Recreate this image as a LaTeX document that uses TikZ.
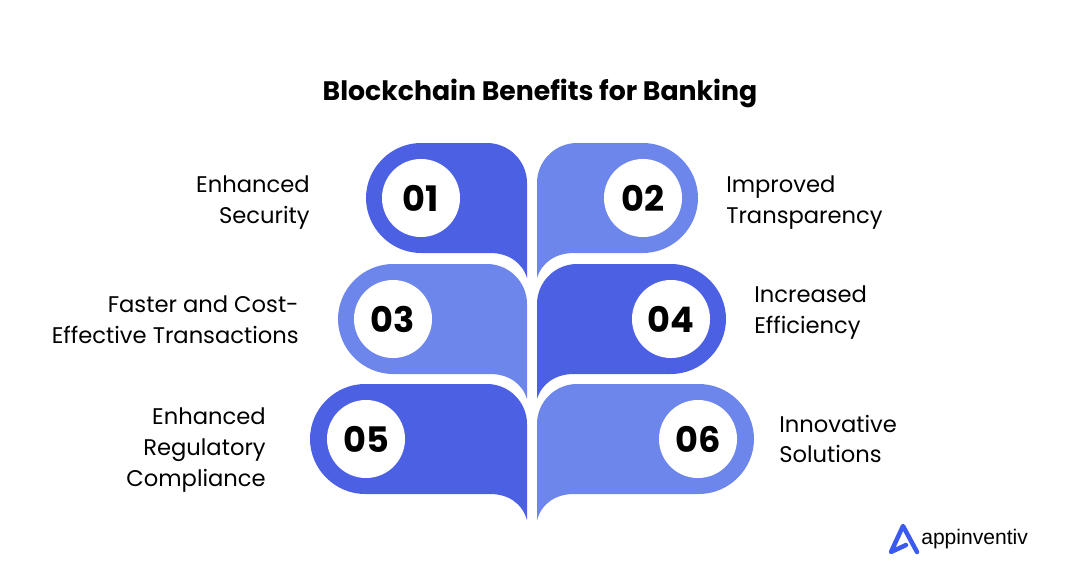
\documentclass[tikz,border=0pt]{standalone}
\usepackage{xcolor}
\usepackage{fontspec}
\setmainfont{Poppins}
\newfontfamily\logofont{Liberation Sans}
\definecolor{darkblue}{HTML}{4C60E4}
\definecolor{lightblue}{HTML}{6D86EC}
\definecolor{logoblue}{HTML}{3B5BF0}
\tikzset{
  numcircle/.style={circle, fill=white, minimum size=1.95cm, inner sep=0pt, font=\fontsize{25}{25}\selectfont\bfseries},
  leftlabel/.style={anchor=east, align=right, inner sep=0pt, font=\fontsize{16.1}{22}\selectfont},
  rightlabel/.style={anchor=west, align=left, inner sep=0pt, font=\fontsize{16.1}{22}\selectfont}
}
\begin{document}
\begin{tikzpicture}[x=0.025cm, y=-0.025cm]
  \useasboundingbox (0, 0) rectangle (1080, 585);
  \node[inner sep=0pt, font=\fontsize{19}{24}\selectfont\bfseries] (title) at (540, 93) {Blockchain Benefits for Banking};
  % left leaves
  \fill[darkblue] (421, 143) -- (487, 143) .. controls (509, 143) and (527, 161) .. (527, 183) -- (527, 278) .. controls (522, 262) and (508, 253) .. (490, 253) -- (421, 253) .. controls (391, 253) and (366, 228) .. (366, 198) .. controls (366, 168) and (391, 143) .. (421, 143);
  \fill[lightblue] (393, 264) -- (487, 264) .. controls (509, 264) and (527, 282) .. (527, 304) -- (527, 399) .. controls (522, 383) and (508, 374) .. (490, 374) -- (393, 374) .. controls (363, 374) and (338, 349) .. (338, 319) .. controls (338, 289) and (363, 264) .. (393, 264);
  \fill[darkblue] (365, 384) -- (487, 384) .. controls (509, 384) and (527, 402) .. (527, 424) -- (527, 520) .. controls (522, 503) and (508, 494) .. (490, 494) -- (365, 494) .. controls (335, 494) and (310, 469) .. (310, 439) .. controls (310, 409) and (335, 384) .. (365, 384);
  % right leaves
  \fill[lightblue] (643, 143) -- (577, 143) .. controls (555, 143) and (537, 161) .. (537, 183) -- (537, 278) .. controls (542, 262) and (556, 253) .. (574, 253) -- (643, 253) .. controls (673, 253) and (698, 228) .. (698, 198) .. controls (698, 168) and (673, 143) .. (643, 143);
  \fill[darkblue] (671, 264) -- (577, 264) .. controls (555, 264) and (537, 282) .. (537, 304) -- (537, 399) .. controls (542, 383) and (556, 374) .. (574, 374) -- (671, 374) .. controls (701, 374) and (726, 349) .. (726, 319) .. controls (726, 289) and (701, 264) .. (671, 264);
  \fill[lightblue] (699, 384) -- (577, 384) .. controls (555, 384) and (537, 402) .. (537, 424) -- (537, 520) .. controls (542, 503) and (556, 494) .. (574, 494) -- (699, 494) .. controls (729, 494) and (754, 469) .. (754, 439) .. controls (754, 409) and (729, 384) .. (699, 384);
  % numbers
  \node[numcircle] (num1) at (421, 198) {01};
  \node[numcircle] (num2) at (643, 198) {02};
  \node[numcircle] (num3) at (393, 319) {03};
  \node[numcircle] (num4) at (671, 319) {04};
  \node[numcircle] (num5) at (366, 439) {05};
  \node[numcircle] (num6) at (698, 439) {06};
  % labels
  \node[leftlabel] (lab1) at (310, 203) {Enhanced\\Security};
  \node[rightlabel] (lab2) at (726, 203) {Improved\\Transparency};
  \node[leftlabel] (lab3) at (299, 320) {Faster and Cost-\\Effective Transactions};
  \node[rightlabel] (lab4) at (754, 313) {Increased\\Efficiency};
  \node[leftlabel] (lab5) at (266, 450) {Enhanced\\Regulatory\\Compliance};
  \node[rightlabel] (lab6) at (779, 439) {Innovative\\Solutions};
  % logo
  \draw[logoblue, line width=3.2pt, line join=round, line cap=round] (917, 552) -- (903, 526) -- (891, 552) -- (906, 545);
  \node[anchor=west, inner sep=0pt, font=\fontsize{15}{18}\logofont\selectfont] (logo) at (921, 539) {appinventiv};
\end{tikzpicture}
\end{document}
